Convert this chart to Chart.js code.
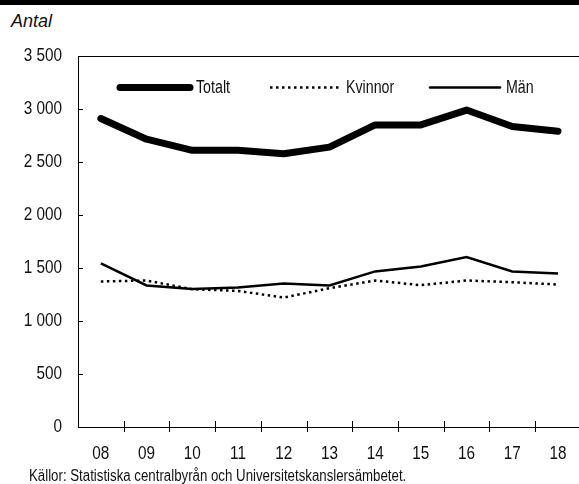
<!DOCTYPE html>
<html>
<head>
<meta charset="utf-8">
<script src="https://cdn.jsdelivr.net/npm/chart.js@4"></script>
<style>
  html, body { margin: 0; padding: 0; background: #fff; overflow: hidden; width: 579px; height: 484px; }
  #topbar { position: absolute; left: 0; top: 0; width: 579px; height: 5px; background: #000; }
  #unit { position: absolute; left: 11px; top: 11px; font: italic 18px "Liberation Sans", Arial, sans-serif; color: #111; }
  #source { position: absolute; left: 29px; top: 467px; font: 16px "Liberation Sans", Arial, sans-serif; color: #111; white-space: nowrap; transform-origin: 0 0; }
  #wrap { position: absolute; left: 0; top: 0; width: 584px; height: 484px; }
</style>
</head>
<body>
<div id="topbar"></div>
<div id="unit">Antal</div>
<div id="wrap"><canvas id="myChart" width="584" height="484"></canvas></div>
<div id="source">Källor: Statistiska centralbyrån och Universitetskanslersämbetet.</div>
<script>
// data
const years = ['08', '09', '10', '11', '12', '13', '14', '15', '16', '17', '18'];
const totalt = [2910, 2715, 2610, 2610, 2578, 2640, 2850, 2850, 2990, 2835, 2790];
const kvinnor = [1373, 1382, 1300, 1284, 1221, 1309, 1382, 1338, 1382, 1366, 1344];
const man = [1543, 1335, 1303, 1316, 1354, 1335, 1468, 1515, 1603, 1468, 1449];
const yTicks = [0, 500, 1000, 1500, 2000, 2500, 3000, 3500];

const FONT = '"Liberation Sans", Arial, sans-serif';
const SQUEEZE = 0.85; // fake condensed font

// squeeze the source line too
const src = document.getElementById('source');
src.style.transform = 'scaleX(' + (377 / src.offsetWidth) + ')';

// narrow the axis labels while the scales are drawn
const narrowText = {
  id: 'narrowText',
  beforeDraw(chart) {
    const c = chart.ctx;
    const orig = c.fillText;
    c._origFill = orig;
    c.fillText = function (t, x, y) {
      this.save();
      this.translate(x, y);
      this.scale(SQUEEZE, 1);
      orig.call(this, t, 0, 0);
      this.restore();
    };
  },
  beforeDatasetsDraw(chart) {
    const c = chart.ctx;
    if (c._origFill) { c.fillText = c._origFill; delete c._origFill; }
  }
};

// ticks inside the plot + top line
const frame = {
  id: 'frame',
  afterDraw(chart) {
    const c = chart.ctx, a = chart.chartArea;
    const x = chart.scales.x, y = chart.scales.y;
    c.save();
    c.strokeStyle = '#000';
    c.lineWidth = 1;
    c.beginPath();
    c.moveTo(a.left, Math.round(a.top) + 0.5);
    c.lineTo(a.right, Math.round(a.top) + 0.5);
    yTicks.forEach(v => {
      const py = Math.round(y.getPixelForValue(v)) + 0.5;
      c.moveTo(a.left, py);
      c.lineTo(a.left + 5, py);
    });
    for (let i = 1; i < years.length; i++) {
      const px = Math.round((x.getPixelForValue(i - 1) + x.getPixelForValue(i)) / 2) + 0.5;
      c.moveTo(px, a.bottom - 6);
      c.lineTo(px, a.bottom + 5);
    }
    c.stroke();
    c.restore();
  }
};

// legend inside the plot
const innerLegend = {
  id: 'innerLegend',
  afterDraw(chart) {
    const c = chart.ctx, a = chart.chartArea;
    const ly = a.top + 31.5;
    const spots = [42, 192, 352];
    c.save();
    c.textBaseline = 'middle';
    chart.data.datasets.forEach((ds, i) => {
      const x0 = a.left + spots[i];
      c.beginPath();
      c.strokeStyle = ds.borderColor;
      c.lineWidth = ds.borderWidth;
      c.lineCap = ds.borderDash ? 'butt' : 'round';
      c.setLineDash(ds.borderDash || []);
      c.moveTo(x0, ly);
      c.lineTo(x0 + 70, ly);
      c.stroke();
      c.setLineDash([]);
      c.save();
      c.translate(x0 + 76, ly + 1);
      c.scale(0.79, 1);
      c.font = '18px ' + FONT;
      c.fillStyle = '#111';
      c.fillText(ds.label, 0, 0);
      c.restore();
    });
    c.restore();
  }
};

new Chart(document.getElementById('myChart'), {
  type: 'line',
  data: {
    labels: years,
    datasets: [
      { label: 'Totalt', data: totalt, borderColor: '#000', borderWidth: 7, borderCapStyle: 'round', borderJoinStyle: 'round', pointRadius: 0 },
      { label: 'Kvinnor', data: kvinnor, borderColor: '#000', borderWidth: 2.5, borderDash: [2.5, 3.5], pointRadius: 0 },
      { label: 'Män', data: man, borderColor: '#000', borderWidth: 2.5, pointRadius: 0 }
    ]
  },
  options: {
    responsive: false,
    animation: false,
    layout: { padding: { top: 56, right: 0, left: 0, bottom: 0 } },
    plugins: { legend: { display: false }, tooltip: { enabled: false } },
    scales: {
      x: {
        offset: true,
        grid: { display: false, drawTicks: false },
        border: { color: '#000', width: 1 },
        ticks: { color: '#111', font: { family: FONT, size: 18 }, padding: 16, maxRotation: 0 },
        afterFit(s) { s.height = 57; }
      },
      y: {
        min: 0, max: 3500,
        grid: { display: false, drawTicks: false },
        border: { color: '#000', width: 1 },
        ticks: {
          stepSize: 500, color: '#111', padding: 16,
          font: { family: FONT, size: 18 },
          callback: v => String(v).replace(/\B(?=(\d{3})+(?!\d))/g, ' ')
        },
        afterFit(s) { s.width = 78; }
      }
    }
  },
  plugins: [narrowText, frame, innerLegend]
});
</script>
</body>
</html>
